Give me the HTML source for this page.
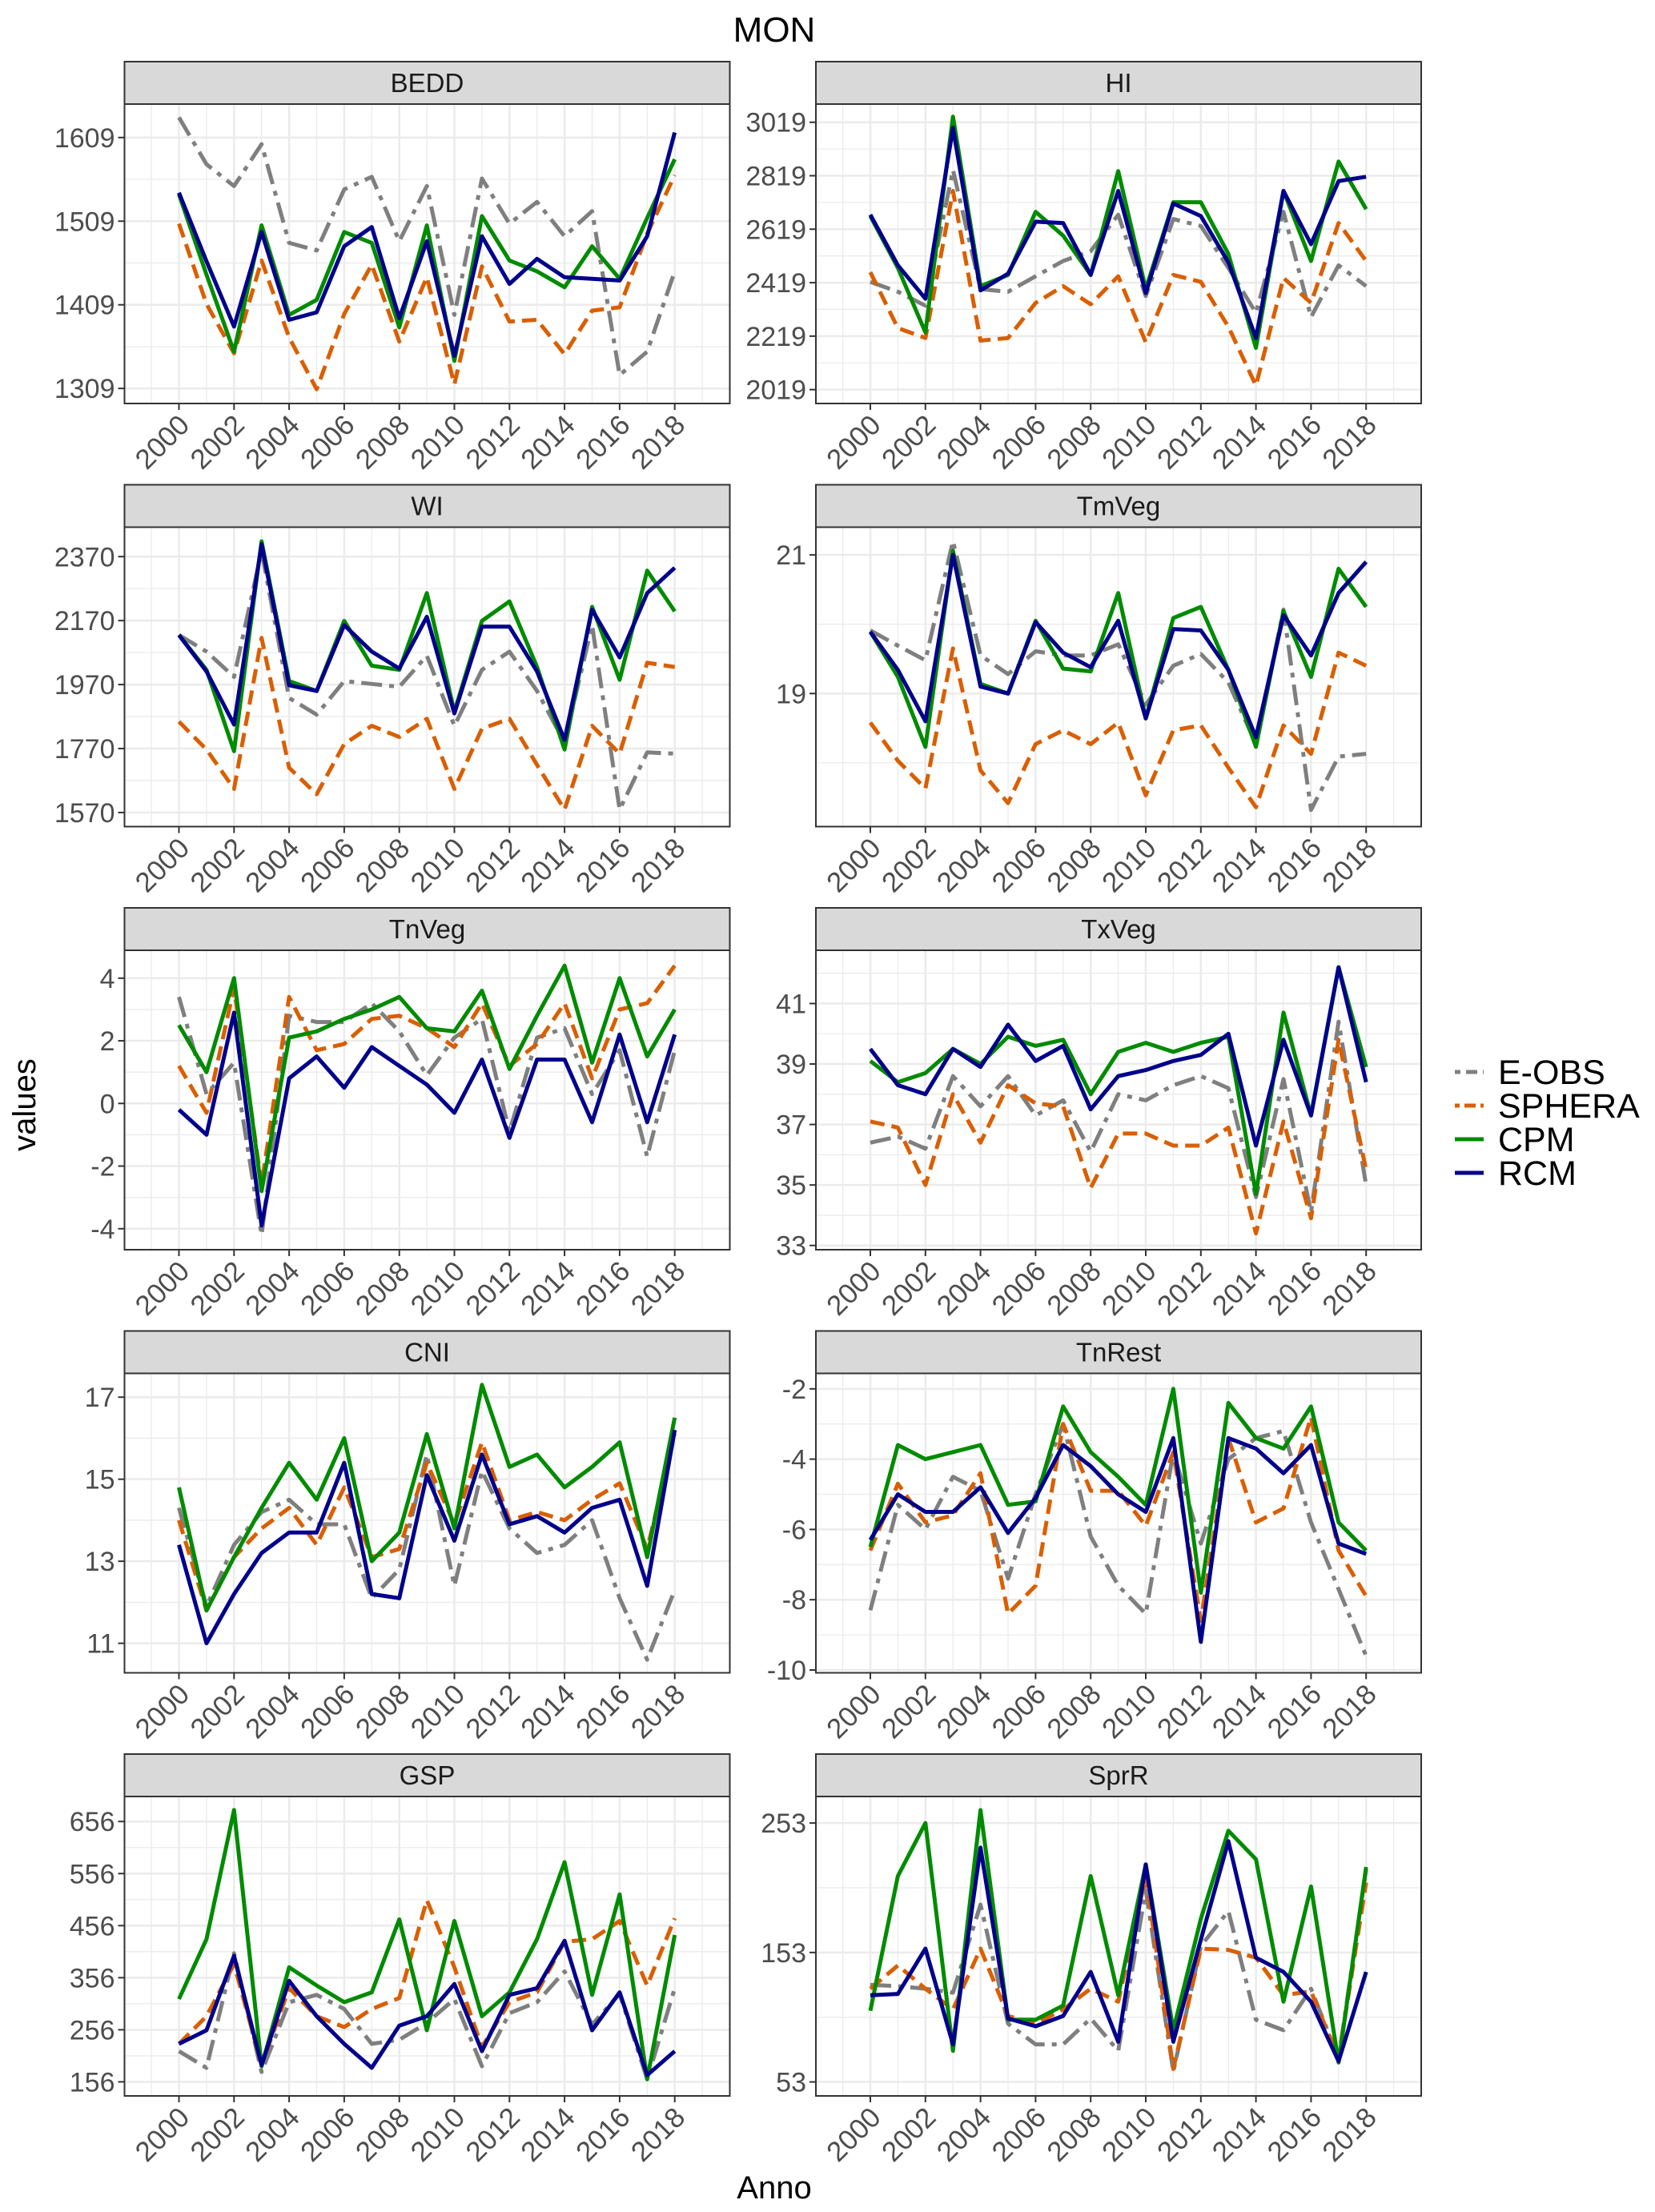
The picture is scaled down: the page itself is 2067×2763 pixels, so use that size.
<!DOCTYPE html>
<html><head><meta charset="utf-8">
<style>
html,body{margin:0;padding:0;background:#fff;}
svg{display:block;font-family:"Liberation Sans",Arial,sans-serif;}
</style></head>
<body>
<svg id="chart" width="2067" height="2763" viewBox="0 0 2067 2763" xmlns="http://www.w3.org/2000/svg">
<text x="967" y="52" font-size="44" text-anchor="middle" fill="#000">MON</text>
<text x="0" y="0" font-size="40" text-anchor="middle" fill="#000" transform="translate(44,1380) rotate(-90)">values</text>
<text x="967" y="2746" font-size="40" text-anchor="middle" fill="#000">Anno</text>
<g id="panels"></g>
<g id="legend"></g>
</svg>
<script>
const years = [2000,2001,2002,2003,2004,2005,2006,2007,2008,2009,2010,2011,2012,2013,2014,2015,2016,2017,2018];
const seriesNames = ["E-OBS","SPHERA","CPM","RCM"];
const panelNames = ["BEDD","HI","WI","TmVeg","TnVeg","TxVeg","CNI","TnRest","GSP","SprR"];
const yTicksBEDD = [1309,1409,1509,1609];
const yTicksHI = [2019,2219,2419,2619,2819,3019];
const yTicksWI = [1570,1770,1970,2170,2370];
const yTicksTmVeg = [19,21];
const yTicksTnVeg = [-4,-2,0,2,4];
const yTicksTxVeg = [33,35,37,39,41];
const yTicksCNI = [11,13,15,17];
const yTicksTnRest = [-10,-8,-6,-4,-2];
const yTicksGSP = [156,256,356,456,556,656];
const yTicksSprR = [53,153,253];
const yRangeBEDD = [1291,1649];
const yRangeHI = [1967,3087];
const yRangeWI = [1526,2462];
const yRangeTmVeg = [17.08,21.4];
const yRangeTnVeg = [-4.67,4.89];
const yRangeTxVeg = [32.86,42.76];
const yRangeCNI = [10.28,17.58];
const yRangeTnRest = [-10.08,-1.56];
const yRangeGSP = [129,704];
const yRangeSprR = [42.2,273.5];

const bedd_eobs = [1633,1577,1551,1601,1483,1474,1547,1562,1485,1551,1397,1560,1506,1532,1491,1521,1325,1353,1449];
const bedd_sphera = [1506,1410,1351,1462,1370,1308,1398,1457,1365,1442,1314,1455,1389,1391,1350,1402,1406,1494,1564];
const bedd_cpm = [1541,1445,1353,1504,1397,1415,1496,1483,1382,1504,1342,1515,1462,1449,1430,1479,1440,1513,1583];
const bedd_rcm = [1543,1461,1383,1496,1391,1400,1479,1502,1393,1485,1348,1491,1434,1464,1442,1440,1438,1491,1615];

const hi_eobs = [2422,2385,2333,2841,2395,2385,2443,2500,2537,2673,2369,2657,2631,2474,2306,2684,2290,2484,2406];
const hi_sphera = [2458,2249,2212,2762,2202,2212,2343,2406,2338,2443,2196,2448,2422,2254,2034,2437,2343,2642,2500];
const hi_cpm = [2668,2474,2233,3040,2406,2448,2684,2595,2448,2836,2395,2720,2720,2526,2175,2762,2500,2872,2694];
const hi_rcm = [2673,2484,2359,2998,2390,2453,2647,2642,2448,2762,2380,2715,2668,2495,2212,2762,2563,2799,2815];

const wi_eobs = [2125,2073,1994,2387,1928,1876,1981,1972,1963,2060,1841,2016,2073,1950,1789,2156,1579,1758,1754];
const wi_sphera = [1854,1767,1644,2116,1710,1627,1784,1841,1806,1863,1644,1832,1863,1719,1579,1841,1754,2038,2025];
const wi_cpm = [2125,2016,1762,2418,1981,1950,2169,2029,2016,2256,1885,2169,2230,2025,1767,2213,1985,2326,2199];
const wi_rcm = [2125,2011,1845,2409,1968,1950,2156,2073,2020,2182,1880,2151,2151,2011,1797,2204,2055,2256,2335];

const tmveg_eobs = [19.91,19.69,19.48,21.2,19.55,19.28,19.61,19.55,19.55,19.71,18.84,19.4,19.57,19.16,18.27,20.21,17.32,18.09,18.13];
const tmveg_sphera = [18.58,18.03,17.63,19.65,17.89,17.42,18.27,18.47,18.27,18.58,17.53,18.47,18.54,17.93,17.36,18.54,18.13,19.59,19.4];
const tmveg_cpm = [19.89,19.24,18.23,21.06,19.14,19.0,20.05,19.36,19.32,20.45,18.64,20.09,20.25,19.34,18.23,20.19,19.24,20.8,20.25];
const tmveg_rcm = [19.89,19.34,18.6,21.0,19.1,19.0,20.03,19.59,19.38,20.05,18.64,19.93,19.91,19.34,18.37,20.13,19.55,20.45,20.9];

const tnveg_eobs = [3.4,0.3,1.3,-4.2,2.8,2.6,2.6,3.2,2.3,0.9,2.1,2.7,-0.9,2.1,2.4,0.3,1.7,-1.7,1.7];
const tnveg_sphera = [1.2,-0.3,3.7,-2.6,3.4,1.7,1.9,2.7,2.8,2.4,1.8,3.2,1.2,1.9,3.2,0.8,3.0,3.2,4.4];
const tnveg_cpm = [2.5,1.0,4.0,-2.8,2.1,2.3,2.7,3.0,3.4,2.4,2.3,3.6,1.1,2.8,4.4,1.3,4.0,1.5,3.0];
const tnveg_rcm = [-0.2,-1.0,2.9,-3.9,0.8,1.5,0.5,1.8,1.2,0.6,-0.3,1.4,-1.1,1.4,1.4,-0.6,2.2,-0.6,2.2];

const txveg_eobs = [36.4,36.6,36.2,38.6,37.6,38.6,37.3,37.8,36.1,38.0,37.8,38.3,38.6,38.2,34.6,38.5,34.1,40.4,35.0];
const txveg_sphera = [37.1,36.9,35.0,38.0,36.4,38.3,37.7,37.6,34.9,36.7,36.7,36.3,36.3,36.9,33.4,37.1,33.9,39.8,35.5];
const txveg_cpm = [39.1,38.4,38.7,39.5,39.0,39.9,39.6,39.8,38.0,39.4,39.7,39.4,39.7,39.9,34.7,40.7,37.3,42.2,38.9];
const txveg_rcm = [39.5,38.3,38.0,39.5,38.9,40.3,39.1,39.6,37.5,38.6,38.8,39.1,39.3,40.0,36.3,39.8,37.3,42.2,38.4];

const cni_eobs = [14.3,11.9,13.4,14.2,14.5,13.9,13.9,12.1,12.8,15.6,12.4,15.2,13.8,13.2,13.4,14.0,12.1,10.6,12.3];
const cni_sphera = [14.0,11.8,13.1,13.8,14.3,13.4,14.8,13.1,13.3,15.4,13.9,15.9,14.0,14.2,14.0,14.5,14.9,13.3,16.1];
const cni_cpm = [14.8,11.8,13.1,14.3,15.4,14.5,16.0,13.0,13.7,16.1,13.8,17.3,15.3,15.6,14.8,15.3,15.9,13.1,16.5];
const cni_rcm = [13.4,11.0,12.2,13.2,13.7,13.7,15.4,12.2,12.1,15.1,13.5,15.6,13.9,14.1,13.7,14.3,14.5,12.4,16.2];

const tnrest_eobs = [-8.3,-5.3,-6.0,-4.5,-4.9,-7.4,-5.0,-3.0,-6.2,-7.6,-8.4,-3.8,-6.4,-4.0,-3.4,-3.2,-5.8,-7.7,-9.6];
const tnrest_sphera = [-6.6,-4.7,-5.8,-5.6,-4.4,-8.4,-7.6,-3.0,-4.9,-4.9,-5.9,-3.8,-8.6,-3.4,-5.8,-5.4,-2.8,-6.6,-7.9];
const tnrest_cpm = [-6.5,-3.6,-4.0,-3.8,-3.6,-5.3,-5.2,-2.5,-3.8,-4.5,-5.3,-2.0,-7.8,-2.4,-3.4,-3.7,-2.5,-5.8,-6.6];
const tnrest_rcm = [-6.3,-5.0,-5.5,-5.5,-4.8,-6.1,-5.1,-3.6,-4.2,-5.0,-5.5,-3.4,-9.2,-3.4,-3.7,-4.4,-3.6,-6.4,-6.7];

const gsp_eobs = [215,183,403,175,309,323,296,229,237,269,315,186,288,309,368,266,325,161,336];
const gsp_sphera = [229,282,382,188,336,282,261,296,317,505,376,223,309,328,425,430,465,341,470];
const gsp_cpm = [315,430,678,186,376,341,309,328,468,255,465,282,328,430,578,323,516,161,438];
const gsp_rcm = [229,255,398,188,350,282,229,183,264,282,344,215,323,336,427,255,328,169,215];

const sprr_eobs = [128,127,125,122,190,98,82,82,102,77,201,61,158,185,101,93,125,71,217];
const sprr_sphera = [125,143,125,109,156,104,98,109,125,115,212,63,156,155,149,120,123,71,207];
const sprr_cpm = [108,212,253,77,263,101,101,112,212,120,221,93,179,247,225,115,204,68,219];
const sprr_rcm = [120,121,156,82,234,102,96,104,138,84,221,84,163,239,149,138,115,69,138];

const panelData = [
 [bedd_eobs,bedd_sphera,bedd_cpm,bedd_rcm],
 [hi_eobs,hi_sphera,hi_cpm,hi_rcm],
 [wi_eobs,wi_sphera,wi_cpm,wi_rcm],
 [tmveg_eobs,tmveg_sphera,tmveg_cpm,tmveg_rcm],
 [tnveg_eobs,tnveg_sphera,tnveg_cpm,tnveg_rcm],
 [txveg_eobs,txveg_sphera,txveg_cpm,txveg_rcm],
 [cni_eobs,cni_sphera,cni_cpm,cni_rcm],
 [tnrest_eobs,tnrest_sphera,tnrest_cpm,tnrest_rcm],
 [gsp_eobs,gsp_sphera,gsp_cpm,gsp_rcm],
 [sprr_eobs,sprr_sphera,sprr_cpm,sprr_rcm]
];
const panelTicks = [yTicksBEDD,yTicksHI,yTicksWI,yTicksTmVeg,yTicksTnVeg,yTicksTxVeg,yTicksCNI,yTicksTnRest,yTicksGSP,yTicksSprR];
const panelRanges = [yRangeBEDD,yRangeHI,yRangeWI,yRangeTmVeg,yRangeTnVeg,yRangeTxVeg,yRangeCNI,yRangeTnRest,yRangeGSP,yRangeSprR];

const colors = ["#7f7f7f","#d95f02","#008b00","#00008b"];
const dashes = ["26,9,6,9","18,9","",""];
const NS = "http://www.w3.org/2000/svg";
function mk(tag, attrs, parent){
  const e = document.createElementNS(NS, tag);
  for (const k in attrs) e.setAttribute(k, attrs[k]);
  parent.appendChild(e);
  return e;
}
const root = document.getElementById("panels");
const colX = [155.5, 1019];
const W = 756, rowStep = 528.5, stripTop = 77, stripH = 53, plotTop = 130, plotBot = 504;
const xStep = 34.4;

panelNames.forEach((name, p) => {
  const col = p % 2, row = Math.floor(p / 2);
  const px = colX[col], oy = row * rowStep;
  const top = plotTop + oy, bot = plotBot + oy;
  const [ymin, ymax] = panelRanges[p];
  const xs = yr => px + 68 + (yr - 2000) * xStep;
  const ys = v => bot - (v - ymin) / (ymax - ymin) * (bot - top);
  const g = mk("g", {}, root);
  
  
  const strip = mk("rect", {x:px, y:stripTop+oy, width:W, height:stripH, fill:"#d9d9d9", stroke:"#333", "stroke-width":2}, g);
  
  
  const st = mk("text", {x:px+W/2, y:stripTop+oy+38, "font-size":33, "text-anchor":"middle", fill:"#1a1a1a"}, g);
  st.textContent = name;
  
  
  mk("rect", {x:px, y:top, width:W, height:bot-top, fill:"#fff"}, g);
  for (let yr = 1999; yr <= 2019; yr++) {
    const gl = mk("line", {x1:xs(yr), x2:xs(yr), y1:top, y2:bot, stroke:"#ebebeb", "stroke-width": yr % 2 === 0 ? 2.5 : 1.3}, g);
    
    
  }
  const ticks = panelTicks[p];
  const d = ticks.length > 1 ? ticks[1] - ticks[0] : 1;
  for (let v = ticks[0] - d; v <= ticks[ticks.length-1] + d; v += d/2) {
    if (v < ymin || v > ymax) continue;
    const major = Math.abs(((v - ticks[0]) / d) - Math.round((v - ticks[0]) / d)) < 1e-6;
    const gl = mk("line", {x1:px, x2:px+W, y1:ys(v), y2:ys(v), stroke:"#ebebeb", "stroke-width": major ? 2.5 : 1.3}, g);
    
    
  }
  ticks.forEach(t => {
    mk("line", {x1:px-8, x2:px, y1:ys(t), y2:ys(t), stroke:"#333", "stroke-width":2}, g);
    const tl = mk("text", {x:px-12, y:ys(t)+12, "font-size":34, "text-anchor":"end", fill:"#4d4d4d"}, g);
    tl.textContent = String(t);
    
    
  });
  years.forEach(yr => {
    if (yr % 2 !== 0) return;
    mk("line", {x1:xs(yr), x2:xs(yr), y1:bot, y2:bot+8, stroke:"#333", "stroke-width":2}, g);
    const tl = mk("text", {x:0, y:0, "font-size":35, "text-anchor":"end", fill:"#4d4d4d",
      transform:`translate(${xs(yr)+15},${bot+29}) rotate(-45)`}, g);
    tl.textContent = String(yr);
    
    
  });
  panelData[p].forEach((vals, s) => {
    const pts = vals.map((v, i) => xs(years[i]).toFixed(1) + "," + ys(v).toFixed(1)).join(" ");
    const attrs = {points:pts, fill:"none", stroke:colors[s], "stroke-width":5, "stroke-linejoin":"round"};
    if (dashes[s]) attrs["stroke-dasharray"] = dashes[s];
    const pl = mk("polyline", attrs, g);
    
    
  });
  mk("rect", {x:px, y:top, width:W, height:bot-top, fill:"none", stroke:"#333", "stroke-width":2}, g);
});

const lg = document.getElementById("legend");
const legY = [1339, 1381, 1423, 1465];
seriesNames.forEach((n, s) => {
  const attrs = {x1:1817, x2:1853, y1:legY[s], y2:legY[s], stroke:colors[s], "stroke-width":5};
  if (dashes[s]) attrs["stroke-dasharray"] = s === 0 ? "7,7,14" : "6,6,14";
  const ln = mk("line", attrs, lg);
  
  
  const t = mk("text", {x:1871, y:legY[s]+15, "font-size":43, fill:"#000"}, lg);
  t.textContent = n;
  
  
});
</script>
</body></html>
